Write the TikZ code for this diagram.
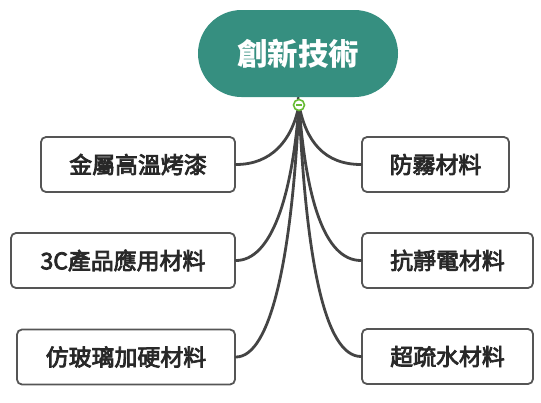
\documentclass[tikz,border=0pt]{standalone}
\usepackage{fontspec}
\setmainfont{Noto Sans CJK TC}
\newfontfamily\cjk{Noto Sans CJK TC}
\newfontfamily\cjkmid[FakeBold=3.5]{Noto Sans CJK TC}
\usetikzlibrary{calc}
\definecolor{rootfill}{RGB}{54,143,128}
\definecolor{edgegray}{RGB}{68,68,68}
\definecolor{boxline}{RGB}{85,85,85}
\definecolor{txt}{RGB}{40,40,40}
\definecolor{toggreen}{RGB}{102,187,51}
\tikzset{
  rootbox/.style={draw=none, fill=rootfill, rounded corners=43.5bp, minimum width=200bp, minimum height=87bp, inner sep=0pt, text=white, font=\cjk\bfseries\fontsize{30.5}{33}\selectfont},
  topicbox/.style={draw=boxline, line width=1.8bp, fill=white, rounded corners=5bp, minimum height=55bp, inner sep=0pt, text=txt, font=\cjkmid\fontsize{23}{27}\selectfont},
  branch/.style={draw=edgegray, line width=2.8bp},
  toggle/.style={circle, draw=toggreen, fill=white, line width=1.6bp, minimum size=11bp, inner sep=0pt}
}
\begin{document}
\begin{tikzpicture}[x=1bp, y=-1bp]
\useasboundingbox (0,0) rectangle (541,402);
\node[rootbox] (root) at (298,53.5) {創新技術};
\node[topicbox, minimum width=194bp] (L1) at (138,164.5) {金屬高溫烤漆};
\node[topicbox, minimum width=224bp] (L2) at (123,260.5) {3C產品應用材料};
\node[topicbox, minimum width=218bp] (L3) at (126,357) {仿玻璃加硬材料};
\node[topicbox, minimum width=147bp] (R1) at (435.5,164.5) {防霧材料};
\node[topicbox, minimum width=171bp] (R2) at (447.5,260.5) {抗靜電材料};
\node[topicbox, minimum width=171bp] (R3) at (447.5,356.5) {超疏水材料};
\coordinate (hub) at (299,105);
\begin{scope}[line cap=round]
\draw[branch] (hub) .. controls (292,141) and (271,164.5) .. (L1.east);
\draw[branch] (hub) .. controls (292,198) and (271,260.5) .. (L2.east);
\draw[branch] (hub) .. controls (292,256) and (271,357) .. (L3.east);
\draw[branch] (hub) .. controls (306,141) and (324,164.5) .. (R1.west);
\draw[branch] (hub) .. controls (306,198) and (324,260.5) .. (R2.west);
\draw[branch] (hub) .. controls (306,256) and (324,356.5) .. (R3.west);
\end{scope}
\draw[edgegray, line width=2.5bp] (root.south) -- (hub);
\node[toggle] (tog) at (hub) {};
\draw[toggreen, line width=1.6bp] ($(tog.center)+(-3,0)$) -- ($(tog.center)+(3,0)$);
\end{tikzpicture}
\end{document}
